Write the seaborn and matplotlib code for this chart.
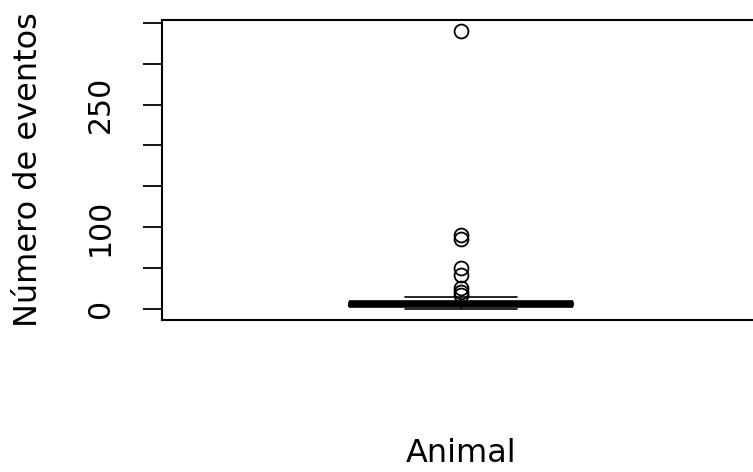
import numpy as np
import pandas as pd
import matplotlib
matplotlib.use("Agg")
import matplotlib.pyplot as plt
import seaborn as sns

# número de eventos por animal
eventos = [0, 1, 1, 1, 2, 2, 2, 2, 3, 3, 3, 3, 3, 3, 4, 4, 4, 4, 5, 5, 5, 5, 5,
           6, 6, 6, 6, 6, 6, 7, 7, 7, 7, 7, 8, 8, 8, 8, 8, 8, 10, 11, 12, 14,
           17, 21, 26, 42, 50, 86, 91, 340]
yticks = [0, 50, 100, 150, 200, 250, 300, 350]
ytick_labels = ["0", "", "100", "", "", "250", "", ""]

sns.set_style("ticks")
plt.rcParams["font.family"] = ["DejaVu Sans"]
plt.rcParams["text.color"] = "black"
plt.rcParams["axes.labelcolor"] = "black"
plt.rcParams["ytick.color"] = "black"

df = pd.DataFrame({"eventos": eventos})

fig = plt.figure(figsize=(7.53, 4.72), dpi=100)
ax = fig.add_axes([162 / 753, 1 - 320 / 472, 598 / 753, 300 / 472])

sns.boxplot(
    data=df,
    y="eventos",
    ax=ax,
    width=0.373,
    fill=False,
    color="black",
    linewidth=1.2,
    whis=1.5,
    medianprops=dict(color="black", linewidth=5.5, solid_capstyle="butt"),
    whiskerprops=dict(color="black", linestyle="--", linewidth=1.2),
    capprops=dict(color="black", linewidth=1.2),
    flierprops=dict(marker="o", markerfacecolor="none", markeredgecolor="black",
                    markersize=10, markeredgewidth=1.3),
)

ax.set_xlim(-0.5, 0.5)
ax.set_ylim(-13.6, 353.6)
ax.set_xticks([])
ax.set_yticks(yticks)
ax.set_yticklabels(ytick_labels, rotation=90, va="center", fontsize=21.5)
ax.tick_params(axis="y", length=14, width=1.3, pad=20, color="black",
               labelcolor="black")

for side in ["left", "bottom", "top", "right"]:
    ax.spines[side].set_visible(True)
    ax.spines[side].set_color("black")
    ax.spines[side].set_linewidth(1.5)

ax.set_xlabel("Animal", fontsize=23, labelpad=85)
ax.set_ylabel("Número de eventos", fontsize=23, labelpad=30)

fig.savefig("out.png", dpi=100)
